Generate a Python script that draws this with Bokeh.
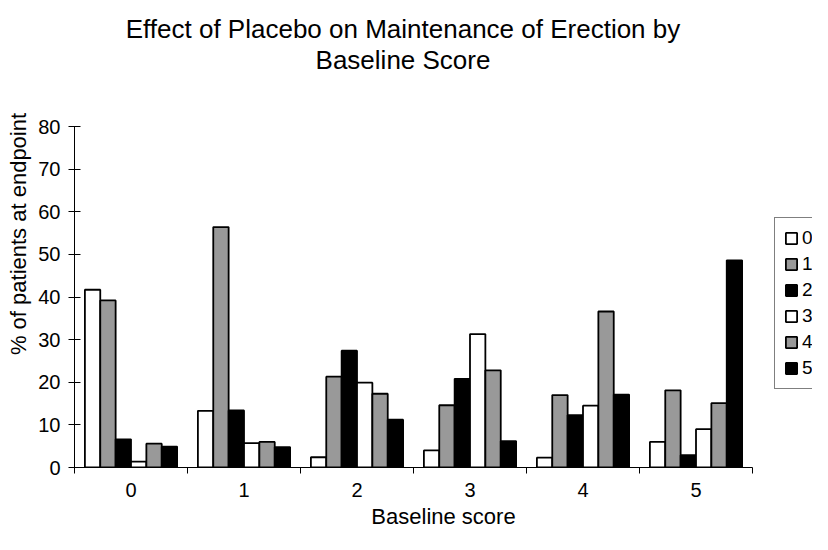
from bokeh.plotting import figure
from bokeh.models import FixedTicker, Legend, LegendItem, Label, ColumnDataSource
from bokeh.embed import file_html
from bokeh.resources import INLINE

categories = ["0", "1", "2", "3", "4", "5"]
series_names = ["0", "1", "2", "3", "4", "5"]
s0 = [41.7, 13.3, 2.4, 4.0, 2.3, 6.0]
s1 = [39.2, 56.4, 21.3, 14.6, 17.0, 18.1]
s2 = [6.6, 13.4, 27.4, 20.8, 12.3, 2.9]
s3 = [1.4, 5.7, 19.9, 31.3, 14.5, 9.0]
s4 = [5.6, 6.0, 17.3, 22.8, 36.6, 15.1]
s5 = [4.9, 4.8, 11.2, 6.2, 17.1, 48.6]
series = [s0, s1, s2, s3, s4, s5]
fills = ["#ffffff", "#999999", "#000000", "#ffffff", "#999999", "#000000"]
y_ticks = [0, 10, 20, 30, 40, 50, 60, 70, 80]
title_lines = ["Effect of Placebo on Maintenance of Erection by", "Baseline Score"]

FONT = "Liberation Sans"

# layout geometry (pixels)
W, H = 812, 534
LEFT, BOTTOM = 74, 67
PX_PER_CAT = 113.0
PX_PER_UNIT = 341.0 / 80.0
frame_w = W - LEFT
frame_h = H - BOTTOM
x_end = frame_w / PX_PER_CAT
y_end = frame_h / PX_PER_UNIT

p = figure(width=W, height=H, output_backend="svg", toolbar_location=None,
           x_range=(0, x_end), y_range=(0, y_end),
           min_border_left=LEFT, min_border_right=0, min_border_top=0, min_border_bottom=BOTTOM)
p.outline_line_color = None
p.xgrid.grid_line_color = None
p.ygrid.grid_line_color = None
p.background_fill_color = "white"
p.border_fill_color = "white"

ncat = len(categories)
bw = 0.136
items = []
for j, (name, vals) in enumerate(zip(series_names, series)):
    xs = [i + 0.5 + (j - 2.5) * bw for i in range(ncat)]
    src = ColumnDataSource(dict(x=xs, top=vals))
    r = p.vbar(x="x", top="top", width=bw, bottom=0, source=src,
               fill_color=fills[j], line_color="black", line_width=1.8)
    items.append(LegendItem(label=name, renderers=[r]))

legend = Legend(items=items, location=(700, 78), orientation="vertical")
legend.border_line_color = "black"
legend.border_line_width = 1
legend.background_fill_color = "white"
legend.label_text_font = FONT
legend.label_text_font_size = "19px"
legend.label_text_color = "black"
legend.glyph_width = 14
legend.glyph_height = 14
legend.label_standoff = 4
legend.spacing = 4
legend.padding = 9
legend.margin = 0
legend.label_height = 22
p.add_layout(legend, "center")

xa = p.xaxis[0]
xa.bounds = (0, ncat)
xa.ticker = FixedTicker(ticks=[i + 0.5 for i in range(ncat)],
                        minor_ticks=list(range(ncat + 1)))
xa.major_label_overrides = {i + 0.5: c for i, c in enumerate(categories)}
xa.major_tick_line_color = None
xa.minor_tick_line_color = "black"
xa.minor_tick_in = 0
xa.minor_tick_out = 6
xa.axis_line_color = "black"
xa.major_label_text_font = FONT
xa.major_label_text_font_size = "20px"
xa.major_label_text_color = "black"
xa.major_label_standoff = 9
xa.axis_label = "Baseline score"
xa.axis_label_text_font = FONT
xa.axis_label_text_font_size = "22px"
xa.axis_label_text_font_style = "normal"
xa.axis_label_text_color = "black"
xa.axis_label_standoff = 4

ya = p.yaxis[0]
ya.bounds = (0, 80)
ya.ticker = FixedTicker(ticks=y_ticks)
ya.major_tick_in = 6
ya.major_tick_out = 6
ya.minor_tick_line_color = None
ya.axis_line_color = "black"
ya.major_label_text_font = FONT
ya.major_label_text_font_size = "20px"
ya.major_label_text_color = "black"
ya.major_label_standoff = 8
ya.axis_label = "% of patients at endpoint"
ya.axis_label_text_font = FONT
ya.axis_label_text_font_size = "22px"
ya.axis_label_text_font_style = "normal"
ya.axis_label_text_color = "black"
ya.axis_label_standoff = 4

# title lines (positioned in data space above the y-axis bounds)
title_x = 328.5 / PX_PER_CAT
title_y = [439.0 / PX_PER_UNIT, 408.0 / PX_PER_UNIT]
for t, ty in zip(title_lines, title_y):
    p.add_layout(Label(x=title_x, y=ty, text=t, text_align="center", text_baseline="alphabetic",
                       text_font=FONT, text_font_size="26px", text_color="black"))

open("out.html", "w").write(file_html(p, INLINE))
